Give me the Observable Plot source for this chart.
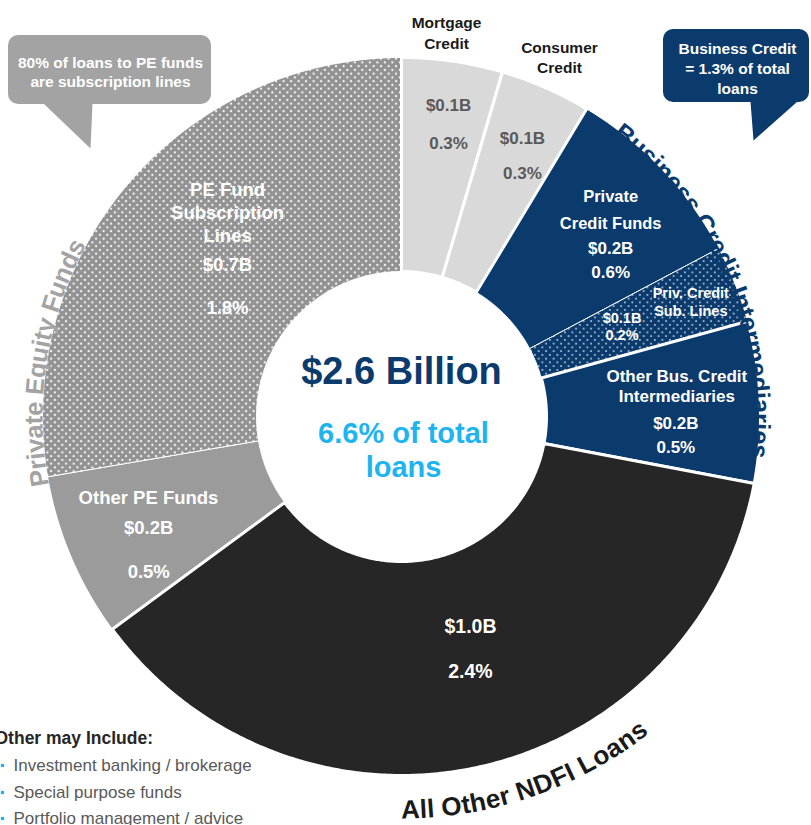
<!DOCTYPE html>
<html><head><meta charset="utf-8">
<script src="https://cdn.jsdelivr.net/npm/d3@7"></script>
<script src="https://cdn.jsdelivr.net/npm/@observablehq/plot@0.6"></script>
<style>
html,body{margin:0;padding:0;background:#fff;overflow:hidden}
#chart{width:811px;height:825px}
svg text{font-family:"Liberation Sans",Arial,Helvetica,sans-serif}
</style></head><body><div id="chart"></div>
<script>
// ---------------- DATA ----------------
const sliceKeys = ["mortgage","consumer","privCredit","privSub","otherBus","allOther","otherPE","peSub"];
const sliceNames = ["Mortgage\nCredit","Consumer\nCredit","Private\nCredit Funds","Priv. Credit\nSub. Lines","Other Bus. Credit\nIntermediaries","","Other PE Funds","PE Fund\nSubscription\nLines"];
const sliceShares = [0.30,0.27,0.57,0.23,0.48,2.44,0.49,1.83]; // % of total loans
const sliceDollarLabels = ["$0.1B","$0.1B","$0.2B","$0.1B","$0.2B","$1.0B","$0.2B","$0.7B"];
const slicePctLabels = ["0.3%","0.3%","0.6%","0.2%","0.5%","2.4%","0.5%","1.8%"];
const groupNames = ["Private Equity Funds","Business Credit Intermediaries","All Other NDFI Loans"];
const centerTitle = "$2.6 Billion";
const centerSubtitle = "6.6% of total\nloans";
const calloutTexts = ["80% of loans to PE funds\nare subscription lines","Business Credit\n= 1.3% of total\nloans"];
const noteTitle = "Other may Include:";
const noteItems = ["Investment banking / brokerage","Special purpose funds","Portfolio management / advice"];

// ---------------- LAYOUT / STYLE ----------------
const W = 811, H = 825, CX = 401, CY = 416, R_OUT = 359, R_IN = 145;
const NAVY = "#0b3a6c", CYAN = "#1eb4f0", FONT = '"Liberation Sans", Arial, sans-serif';
const sliceFill = ["#d9d9d9","#d9d9d9",NAVY,"url(#dotsNavy)",NAVY,"#262626","#9b9b9b","url(#dotsGray)"];
const sliceStrokeW = [3,3,1,1,3,3,1,1];
const nameLayout = [
  {t:.41,r:386,lh:21,size:15.5,color:"#1a1a1a"},
  {t:.505,r:392,lh:20,size:15.5,color:"#1a1a1a"},
  {t:.461,r:294,lh:27,size:16.5,color:"#fff"},
  {t:.51,r:311,lh:18,size:14.5,color:"#fff"},
  {t:.35,r:277,lh:20,size:17,color:"#fff"},
  null,
  {t:.689,r:266,lh:0,size:18.5,color:"#fff"},
  {t:.594,r:268,lh:23,size:18.5,color:"#fff"}
];
const valueLayout = [
  {t:.56,r:296,gap:38,size:17,color:"#595959"},
  {t:.584,r:287,gap:35,size:17,color:"#595959"},
  {t:.716,r:261,gap:24,size:17,color:"#fff"},
  {t:.465,r:238,gap:17,size:14.5,color:"#fff"},
  {t:.74,r:275,gap:24,size:17,color:"#fff"},
  {t:.472,r:242.5,gap:45,size:19.5,color:"#fff"},
  {t:.317,r:286,gap:44,size:18.5,color:"#fff"},
  {t:.465,r:217,gap:43,size:18.5,color:"#fff"}
];
const groupLayout = [
  {center:278.8, rb:359, size:25.5, color:"#a3a3a3", dir:1},
  {center:66.8, rb:351, size:25.5, color:NAVY, dir:1},
  {center:161, rb:402, size:26, color:"#1a1a1a", dir:-1}
];
const calloutLayout = [
  {box:[8,35,211,104], tri:[[43,103],[92,103],[90,148]], fill:"#a3a3a3", text:[110,70.5], lh:19},
  {box:[663,29,809,102], tri:[[750,101],[797,101],[753,140]], fill:NAVY, text:[737,67], lh:20}
];

// ---------------- GEOMETRY ----------------
const px = (X, Y) => [X - CX, CY - Y];
const pt = (r, deg) => { const t = deg * Math.PI / 180; return [r * Math.sin(t), r * Math.cos(t)]; };
const total = d3.sum(sliceShares);
let acc = 0;
const slices = sliceKeys.map((key, i) => {
  const a0 = acc / total * 360; acc += sliceShares[i]; const a1 = acc / total * 360;
  return {i, key, a0, a1};
});
function slicePoly(s) {
  const n = Math.max(2, Math.ceil((s.a1 - s.a0) / 0.5));
  const rows = [];
  for (let j = 0; j <= n; j++) { const [x, y] = pt(R_OUT, s.a0 + (s.a1 - s.a0) * j / n); rows.push({x, y}); }
  for (let j = n; j >= 0; j--) { const [x, y] = pt(R_IN, s.a0 + (s.a1 - s.a0) * j / n); rows.push({x, y}); }
  rows.push(rows[0]);
  return rows;
}

// slice labels
const labelRows = [];
slices.forEach(s => {
  const span = s.a1 - s.a0;
  const nl = nameLayout[s.i];
  if (nl && sliceNames[s.i]) {
    const lines = sliceNames[s.i].split("\n");
    const [ax, ay] = pt(nl.r, s.a0 + nl.t * span);
    lines.forEach((t, j) => labelRows.push({x: ax, y: ay + ((lines.length - 1) / 2 - j) * nl.lh, text: t, size: nl.size, color: nl.color}));
  }
  const vl = valueLayout[s.i];
  const [vx, vy] = pt(vl.r, s.a0 + vl.t * span);
  labelRows.push({x: vx, y: vy + vl.gap / 2, text: sliceDollarLabels[s.i], size: vl.size, color: vl.color});
  labelRows.push({x: vx, y: vy - vl.gap / 2, text: slicePctLabels[s.i], size: vl.size, color: vl.color});
});

// curved group labels
const ctx = document.createElement("canvas").getContext("2d");
function arcChars(text, g) {
  ctx.font = `bold ${g.size}px "Liberation Sans"`;
  const chars = [...text];
  const widths = chars.map(c => ctx.measureText(c).width);
  const rm = g.dir > 0 ? g.rb + 0.35 * g.size : g.rb - 0.35 * g.size;
  const ra = g.dir > 0 ? g.rb + 0.32 * g.size : g.rb - 0.32 * g.size;
  const totDeg = d3.sum(widths) / rm * 180 / Math.PI;
  let cum = 0;
  return chars.map((c, k) => {
    const mid = cum + widths[k] / 2; cum += widths[k];
    const th = g.center + g.dir * (mid / rm * 180 / Math.PI - totDeg / 2);
    const [x, y] = pt(ra, th);
    return {x, y, c, rot: g.dir > 0 ? th : th - 180};
  });
}

// ---------------- MARKS ----------------
const marks = [];
[...slices].sort((a, b) => sliceStrokeW[a.i] - sliceStrokeW[b.i]).forEach(s => {
  marks.push(Plot.line(slicePoly(s), {x: "x", y: "y", fill: sliceFill[s.i], stroke: "white", strokeWidth: sliceStrokeW[s.i], curve: "linear"}));
});

marks.push(Plot.text(labelRows, {x: "x", y: "y", text: "text", fontSize: d => d.size, fill: d => d.color, fontWeight: "bold", textAnchor: "middle", lineAnchor: "middle"}));

// center
marks.push(Plot.text([centerTitle], {x: () => 0, y: () => 45, text: d => d, fontSize: 38, fontWeight: "bold", fill: NAVY, lineAnchor: "middle"}));
marks.push(Plot.text([centerSubtitle], {x: () => 2, y: () => -33, text: d => d, fontSize: 29, fontWeight: "bold", fill: CYAN, lineAnchor: "middle", lineHeight: 34 / 29}));

// callouts
calloutLayout.forEach((c, i) => {
  const [x1, y1] = px(c.box[0], c.box[1]), [x2, y2] = px(c.box[2], c.box[3]);
  marks.push(Plot.rect([{x1, x2, y1, y2}], {x1: "x1", x2: "x2", y1: "y1", y2: "y2", fill: c.fill, rx: 10}));
  const tri = c.tri.map(p => { const [x, y] = px(p[0], p[1]); return {x, y}; });
  marks.push(Plot.line(tri, {x: "x", y: "y", fill: c.fill, stroke: "none"}));
  const [tx, ty] = px(c.text[0], c.text[1]);
  marks.push(Plot.text([calloutTexts[i]], {x: () => tx, y: () => ty, text: d => d, fill: "white", fontSize: 15.5, fontWeight: "bold", lineAnchor: "middle", lineHeight: c.lh / 15.5}));
});

// curved group names
groupNames.forEach((name, i) => {
  const g = groupLayout[i];
  marks.push(Plot.text(arcChars(name, g), {x: "x", y: "y", text: "c", rotate: "rot", fontSize: g.size, fontWeight: "bold", fill: g.color, textAnchor: "middle", lineAnchor: "middle"}));
});

// note
{
  const [nx, ny] = px(-6, 738);
  marks.push(Plot.text([noteTitle], {x: () => nx, y: () => ny, text: d => d, textAnchor: "start", fontSize: 17.5, fontWeight: "bold", fill: "#262626", lineAnchor: "middle"}));
  const ys = [765, 792, 818];
  const items = noteItems.map((t, k) => { const [x, y] = px(13, ys[k]); const [bx] = px(2, 0); return {x, y, bx, t}; });
  marks.push(Plot.dot(items, {x: "bx", y: "y", symbol: "square", r: 1.8, fill: CYAN, stroke: "none"}));
  marks.push(Plot.text(items, {x: "x", y: "y", text: "t", textAnchor: "start", fontSize: 17, fill: "#595959", lineAnchor: "middle"}));
}

const svg = Plot.plot({
  width: W, height: H, margin: 0,
  x: {domain: [-CX, W - CX], axis: null},
  y: {domain: [CY - H, CY], axis: null},
  color: {type: "identity"},
  style: {fontFamily: FONT, background: "white", overflow: "hidden"},
  marks
});

// dotted patterns
const defs = d3.select(svg).insert("defs", ":first-child");
function addPattern(id, base, dot, r) {
  const p = defs.append("pattern").attr("id", id).attr("patternUnits", "userSpaceOnUse").attr("width", 7.5).attr("height", 7.5);
  p.append("rect").attr("width", 7.5).attr("height", 7.5).attr("fill", base);
  p.append("circle").attr("cx", 1.875).attr("cy", 1.875).attr("r", r).attr("fill", dot);
  p.append("circle").attr("cx", 5.625).attr("cy", 5.625).attr("r", r).attr("fill", dot);
}
addPattern("dotsGray", "#929292", "#f4f4f4", 1.15);
addPattern("dotsNavy", NAVY, "#b9c9dd", 1.0);

document.getElementById("chart").appendChild(svg);
</script></body></html>
